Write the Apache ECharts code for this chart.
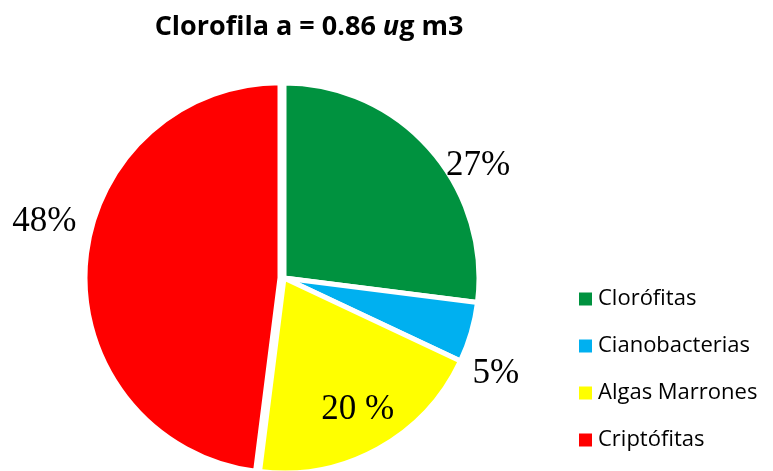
<!DOCTYPE html>
<html>
<head>
<meta charset="utf-8">
<script src="https://cdn.jsdelivr.net/npm/echarts@6/dist/echarts.min.js"></script>
<style>
	html, body { margin: 0; padding: 0; background: #fff; }
	#chart { width: 773px; height: 471px; }
</style>
</head>
<body>
<div id="chart"></div>
<script>
const categories = ["Clorófitas", "Cianobacterias", "Algas Marrones", "Criptófitas"];
const values = [27, 5, 20, 48];
const labelTexts = ["27%", "5%", "20 %", "48%"];
const colors = ["#00923F", "#00B0F0", "#FFFF00", "#FF0000"];
// the red slice sits a little apart from the rest in the original
const pulledOut = [false, false, false, true];

const chart = echarts.init(document.getElementById("chart"));

// manual nudges so labels sit where the original has them
const labelShift = [
	{ dx: 7, dy: 20 },
	{ dx: -4, dy: 41 },
	{ dx: -64, dy: -43 },
	{ dx: 1, dy: -43 }
];

const option = {
	animation: false,
	title: {
		text: "Clorofila a = 0.86 {i|u}g m3",
		left: 304,
		textAlign: "center",
		top: 9,
		textStyle: {
			fontFamily: "Open Sans",
			fontWeight: "bold",
			fontSize: 27,
			color: "#000",
			rich: {
				i: { fontFamily: "Open Sans", fontWeight: "bold", fontStyle: "italic", fontSize: 27, color: "#000" }
			}
		}
	},
	legend: {
		orient: "vertical",
		left: 572,
		top: 283,
		icon: "rect",
		itemWidth: 15,
		itemHeight: 15,
		itemGap: 25,
		textStyle: { fontFamily: "Open Sans", fontSize: 22, color: "#000" },
		data: categories
	},
	series: [{
		type: "pie",
		center: [284, 278],
		radius: 195,
		startAngle: 90,
		clockwise: true,
		selectedMode: "multiple",
		selectedOffset: 4,
		itemStyle: { borderColor: "#fff", borderWidth: 5 },
		label: {
			show: true,
			position: "outside",
			fontFamily: "Liberation Serif",
			fontSize: 35,
			color: "#000",
			formatter: p => labelTexts[p.dataIndex]
		},
		labelLine: { show: false, length: 5, length2: 0 },
		labelLayout: p => labelShift[p.dataIndex],
		data: categories.map((c, i) => ({
			name: c,
			value: values[i],
			selected: pulledOut[i],
			itemStyle: { color: colors[i] }
		}))
	}]
};

chart.setOption(option);
</script>
</body>
</html>
